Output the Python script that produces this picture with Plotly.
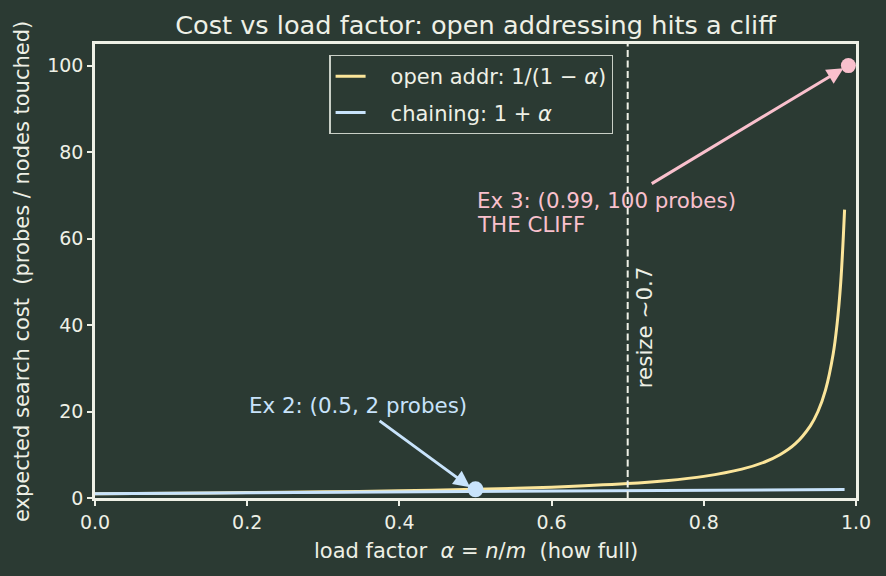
import plotly.graph_objects as go

# ---- data ----
alpha_open = [0.0, 0.1, 0.2, 0.3, 0.4, 0.5, 0.6, 0.7, 0.75, 0.8, 0.85, 0.88, 0.9,
              0.92, 0.94, 0.95, 0.96, 0.97, 0.975, 0.98, 0.985]
cost_open = [1.0, 1.11, 1.25, 1.43, 1.67, 2.0, 2.5, 3.33, 4.0, 5.0, 6.67, 8.33, 10.0,
             12.5, 16.7, 20.0, 25.0, 33.3, 40.0, 50.0, 66.7]
alpha_chain = [0.0, 0.985]
cost_chain = [1.0, 1.985]

ex2_point = (0.5, 2.0)
ex3_point = (0.99, 100.0)
resize_x = 0.7

x_ticks = [0.0, 0.2, 0.4, 0.6, 0.8, 1.0]
y_ticks = [0, 20, 40, 60, 80, 100]

# ---- style ----
BG = "#2b3a33"
FG = "#eef0e6"
YELLOW = "#fbe59a"
BLUE = "#c8e3fb"
PINK = "#f9c0cd"
FONT = "DejaVu Sans"
FS_TICK = 19
FS_LABEL = 21
FS_ANN = 21.4
FS_TITLE = 25.6
NB = "\u00a0"

fig = go.Figure()
fig.add_trace(go.Scatter(x=alpha_open, y=cost_open, mode="lines", line_shape="spline",
                         line=dict(color=YELLOW, width=3), legendgroup="a",
                         name=f"{NB*3}open addr: 1/(1{NB}−{NB}<i>α</i>)"))
fig.add_trace(go.Scatter(x=alpha_chain, y=cost_chain, mode="lines",
                         line=dict(color=BLUE, width=3), legendgroup="b",
                         name=f"{NB*3}chaining: 1{NB}+{NB}<i>α</i>"))
fig.add_trace(go.Scatter(x=[ex2_point[0]], y=[ex2_point[1]], mode="markers",
                         marker=dict(color=BLUE, size=16), showlegend=False))
fig.add_trace(go.Scatter(x=[ex3_point[0]], y=[ex3_point[1]], mode="markers",
                         marker=dict(color=PINK, size=15), showlegend=False, cliponaxis=False))

fig.add_shape(type="line", x0=resize_x, x1=resize_x, y0=0, y1=1, xref="x", yref="paper",
              line=dict(color=FG, width=2, dash="7px,3.5px"))

annotations = [
    # Ex 2 text + arrow
    dict(x=0.2, y=21.5, xref="x", yref="y", text="Ex 2: (0.5, 2 probes)", showarrow=False,
         xanchor="left", yanchor="middle", font=dict(color=BLUE, size=FS_ANN, family=FONT)),
    dict(x=0.493, y=2.5, ax=0.372, ay=18.1, xref="x", yref="y", axref="x", ayref="y",
         text="", showarrow=True, arrowhead=2, arrowsize=1.1, arrowwidth=3, arrowcolor=BLUE),
    # Ex 3 text (two lines) + arrow
    dict(x=0.5, y=68.9, xref="x", yref="y", text="Ex 3: (0.99, 100 probes)",
         showarrow=False, xanchor="left", yanchor="middle", align="left", borderpad=0,
         font=dict(color=PINK, size=FS_ANN, family=FONT)),
    dict(x=0.5, y=63.2, xref="x", yref="y", text="THE CLIFF",
         showarrow=False, xanchor="left", yanchor="middle", align="left", borderpad=0,
         font=dict(color=PINK, size=FS_ANN, family=FONT)),
    dict(x=0.9836, y=99.4, ax=0.7296, ay=72.5, xref="x", yref="y", axref="x", ayref="y",
         text="", showarrow=True, arrowhead=2, arrowsize=1.1, arrowwidth=3, arrowcolor=PINK),
    # resize label
    dict(x=0.722, y=39.6, xref="x", yref="y", text="resize ~0.7", showarrow=False,
         textangle=-90, xanchor="center", yanchor="middle",
         font=dict(color=FG, size=FS_ANN, family=FONT)),
    # axis titles
    dict(x=-0.096, y=0.5, xref="paper", yref="paper",
         text=f"expected search cost{NB}{NB}(probes / nodes touched)", showarrow=False,
         textangle=-90, xanchor="center", yanchor="middle",
         font=dict(color=FG, size=FS_LABEL, family=FONT)),
    dict(x=0.5, y=-0.117, xref="paper", yref="paper",
         text=f"load factor{NB}{NB}<i>α</i>{NB}={NB}<i>n</i>/<i>m</i>{NB}{NB}(how full)",
         showarrow=False, xanchor="center", yanchor="middle",
         font=dict(color=FG, size=FS_LABEL, family=FONT)),
]

axis_common = dict(showgrid=False, zeroline=False, showline=True, mirror=True,
                   linecolor=FG, linewidth=2.5, ticks="outside", ticklen=5, tickwidth=1.5,
                   tickcolor=FG, tickfont=dict(color=FG, size=FS_TICK, family=FONT))

fig.update_layout(
    width=886, height=576,
    paper_bgcolor=BG, plot_bgcolor=BG,
    margin=dict(l=95, r=30, t=44, b=78),
    font=dict(family=FONT, color=FG, size=FS_TICK),
    title=dict(text="Cost vs load factor: open addressing hits a cliff",
               x=0.5, xref="paper", y=1 - 25 / 576, yanchor="middle", xanchor="center",
               font=dict(size=FS_TITLE, color=FG, family=FONT)),
    xaxis=dict(range=[0, 1], tickvals=x_ticks, tickformat=".1f", **axis_common),
    yaxis=dict(range=[0, 105], tickvals=y_ticks, **axis_common),
    legend=dict(x=0.308, y=0.976, xanchor="left", yanchor="top",
                bgcolor=BG, bordercolor="#c9cfc6", borderwidth=1.2, tracegroupgap=6,
                font=dict(color=FG, size=FS_LABEL, family=FONT)),
    annotations=annotations,
    showlegend=True,
)

fig.write_html("out.html")
